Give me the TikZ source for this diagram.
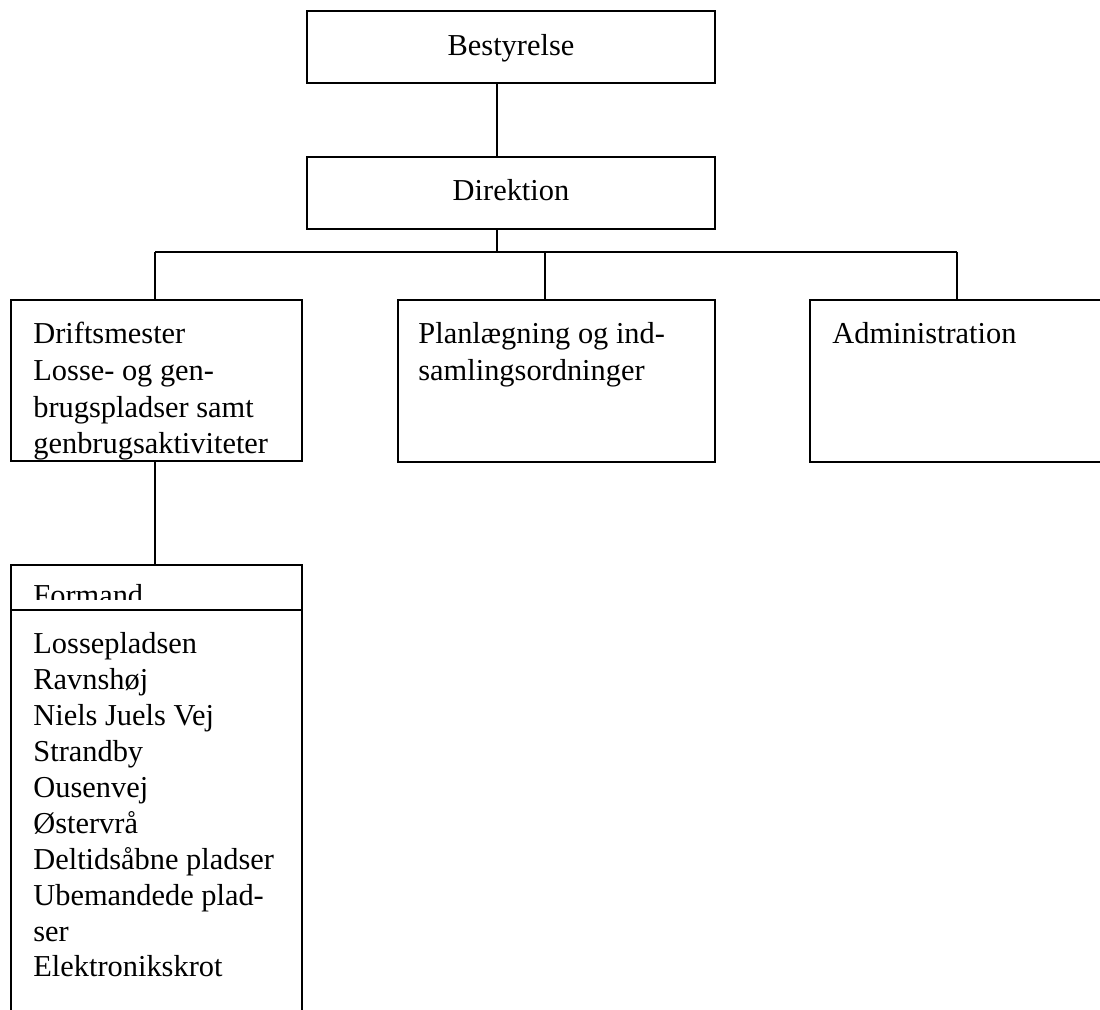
\documentclass[tikz,border=0pt]{standalone}
\usepackage{fontspec}
\setmainfont{Liberation Serif}
\usetikzlibrary{fit}
\begin{document}
\begin{tikzpicture}[x=0.5pt,y=-0.5pt,
  box/.style={draw=black, line width=1.2pt, inner sep=0pt, rectangle},
  txt/.style={anchor=base west, inner sep=0pt, font=\fontsize{15.2}{18}\selectfont},
  ctxt/.style={anchor=base, inner sep=0pt, font=\fontsize{15.2}{18}\selectfont},
  conn/.style={draw=black, line width=1.2pt}]
\fill[white] (0,0) rectangle (1100,1010);
\useasboundingbox (0,0) rectangle (1100,1010);
\clip (0,0) rectangle (1100,1010);
% boxes
\node[box, fit={(307,11) (715,83)}] (best) {};
\node[box, fit={(307,157) (715,229)}] (dir) {};
\node[box, fit={(11,300) (302,461)}] (drift) {};
\node[box, fit={(398,300) (715,462)}] (plan) {};
\node[box, fit={(810,300) (1130,462)}] (admin) {};
\node[box, fit={(11,565) (302,610)}] (formand) {};
\node[box, fit={(11,610) (302,1040)}] (pladser) {};
% texts
\node[ctxt] (tbest) at (511,56) {Bestyrelse};
\node[ctxt] (tdir) at (511,201) {Direktion};
\node[txt] (td1) at (33,344) {Driftsmester};
\node[txt] (td2) at (33,381) {Losse- og gen-};
\node[txt] (td3) at (33,418) {brugspladser samt};
\node[txt] (td4) at (33,454) {genbrugsaktiviteter};
\node[txt] (tp1) at (418,344) {Planlægning og ind-};
\node[txt] (tp2) at (418,381) {samlingsordninger};
\node[txt] (ta1) at (832,344) {Administration};
\begin{scope}
\clip (11,565) rectangle (302,600);
\node[txt] (tf) at (33,606) {Formand};
\end{scope}
\node[txt] (l1) at (33,654) {Lossepladsen};
\node[txt] (l2) at (33,690) {Ravnshøj};
\node[txt] (l3) at (33,726) {Niels Juels Vej};
\node[txt] (l4) at (33,762) {Strandby};
\node[txt] (l5) at (33,798) {Ousenvej};
\node[txt] (l6) at (33,834) {Østervrå};
\node[txt] (l7) at (33,870) {Deltidsåbne pladser};
\node[txt] (l8) at (33,906) {Ubemandede plad-};
\node[txt] (l9) at (33,942) {ser};
\node[txt] (l10) at (33,977) {Elektronikskrot};
% connectors
\coordinate (hub) at (497,252);
\coordinate (jl) at (155,252);
\coordinate (jm) at (545,252);
\coordinate (jr) at (957,252);
\draw[conn] (best.south -| hub) -- (dir.north -| hub);
\draw[conn] (dir.south -| hub) -- (hub);
\draw[conn] (jl) -- (jr);
\draw[conn] (jl) -- (drift.north -| jl);
\draw[conn] (jm) -- (plan.north -| jm);
\draw[conn] (jr) -- (admin.north -| jr);
\draw[conn] (drift.south -| jl) -- (formand.north -| jl);
\end{tikzpicture}
\end{document}
